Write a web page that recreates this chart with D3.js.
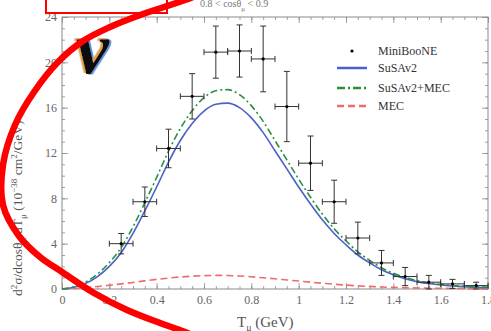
<!DOCTYPE html>
<html><head><meta charset="utf-8">
<script src="https://cdn.jsdelivr.net/npm/d3@7"></script>
<style>
html,body{margin:0;padding:0;background:#fff;}
svg{display:block;font-family:"Liberation Serif","DejaVu Serif",serif;}
</style></head>
<body>
<svg id="chart" width="491" height="331"></svg>
<script>
// ---- data ----
const dataT    = [0.25,0.35,0.45,0.55,0.65,0.75,0.85,0.95,1.05,1.15,1.25,1.35,1.45,1.55,1.65,1.75];
const dataVal  = [4.0, 7.7, 12.4,17.0,20.9,21.0,20.3,16.1,11.1,7.7, 4.5, 2.3, 1.1, 0.6, 0.45,0.3];
const dataErr  = [0.9, 1.3, 1.7, 2.0, 2.3, 2.3, 2.9, 3.1, 2.4, 1.9, 1.4, 1.1, 0.8, 0.6, 0.4, 0.3];
const binHalf  = 0.05;

const curveT   = [0,0.05,0.1,0.15,0.2,0.25,0.3,0.35,0.4,0.45,0.5,0.55,0.6,0.65,0.7,0.75,0.8,0.85,0.9,0.95,1.0,1.05,1.1,1.15,1.2,1.25,1.3,1.35,1.4,1.45,1.5,1.55,1.6,1.65,1.7,1.75,1.8];
const susa     = [0,0.15,0.5,1.1,2.0,3.2,4.9,6.9,9.0,11.2,13.1,14.6,15.7,16.3,16.4,16.0,15.1,13.8,12.2,10.6,9.0,7.5,6.1,4.9,3.9,3.0,2.3,1.7,1.25,0.9,0.65,0.48,0.35,0.26,0.2,0.15,0.12];
const susaMec  = [0,0.2,0.62,1.32,2.33,3.65,5.48,7.62,9.85,12.16,14.16,15.73,16.88,17.5,17.59,17.15,16.18,14.79,13.1,11.4,9.7,8.1,6.61,5.32,4.25,3.28,2.53,1.88,1.39,1.01,0.74,0.55,0.41,0.31,0.24,0.18,0.15];
const mec      = [0,0.05,0.12,0.22,0.33,0.45,0.58,0.72,0.85,0.96,1.06,1.13,1.18,1.2,1.19,1.15,1.08,0.99,0.9,0.8,0.7,0.6,0.51,0.42,0.35,0.28,0.23,0.18,0.14,0.11,0.09,0.07,0.06,0.05,0.04,0.03,0.03];

const xTicks   = [0,0.2,0.4,0.6,0.8,1,1.2,1.4,1.6,1.8];
const xTickLabels = ["0","0.2","0.4","0.6","0.8","1","1.2","1.4","1.6","1.8"];
const yTicks   = [0,4,8,12,16,20,24];

const legendLabels = ["MiniBooNE","SuSAv2","SuSAv2+MEC","MEC"];
// annotation (hand-drawn red ellipse path, in pixels)
const ellipsePts = [[235,-20],[185,0],[143,14],[110,27],[83,41],[58,62],[34,92],[15,125],[3,165],[3,205],[19,236],[40,257],[62,272],[94,293],[127,310],[160,323],[185,332],[215,345]];

// ---- chart ----
const svg = d3.select("#chart");
const x = d3.scaleLinear().domain([0,1.8]).range([62,488]);
const y = d3.scaleLinear().domain([0,24]).range([289,17]);
const axisColor = "#8a8a8a";

// minor ticks
const minorX = d3.range(0,1.8001,0.05);
const minorY = d3.range(0,24.001,1);
function tickAxis(gen, tr, size, vals){
  const g = svg.append("g").attr("transform",tr).call(gen.tickValues(vals).tickSizeInner(size).tickSizeOuter(0).tickFormat(""));
  g.selectAll("path").remove();
  g.selectAll("line").attr("stroke",axisColor).attr("stroke-width",0.8);
  return g;
}
tickAxis(d3.axisBottom(x), `translate(0,${y(0)})`, -3, minorX);
tickAxis(d3.axisBottom(x), `translate(0,${y(0)})`, -6, xTicks);
tickAxis(d3.axisTop(x), `translate(0,${y(24)})`, -3, minorX);
tickAxis(d3.axisTop(x), `translate(0,${y(24)})`, -6, xTicks);
tickAxis(d3.axisLeft(y), `translate(${x(0)},0)`, -3, minorY);
tickAxis(d3.axisLeft(y), `translate(${x(0)},0)`, -6, yTicks);
tickAxis(d3.axisRight(y), `translate(${x(1.8)},0)`, -3, minorY);
tickAxis(d3.axisRight(y), `translate(${x(1.8)},0)`, -6, yTicks);

// frame
svg.append("rect").attr("x",x(0)).attr("y",y(24)).attr("width",x(1.8)-x(0)).attr("height",y(0)-y(24))
  .attr("fill","none").attr("stroke",axisColor).attr("stroke-width",1);

// tick labels
const xl = svg.append("g").attr("transform",`translate(0,${y(0)})`)
  .call(d3.axisBottom(x).tickValues(xTicks).tickSize(0).tickPadding(6).tickFormat((d,i)=>xTickLabels[i]));
xl.select("path").remove();
xl.selectAll("text").attr("font-family","Liberation Serif").attr("font-size",12).attr("fill","#666");
const yl = svg.append("g").attr("transform",`translate(${x(0)},0)`)
  .call(d3.axisLeft(y).tickValues(yTicks).tickSize(0).tickPadding(5));
yl.select("path").remove();
yl.selectAll("text").attr("font-family","Liberation Serif").attr("font-size",12).attr("fill","#666");

// curves
const line = vals => d3.line().x((d,i)=>x(curveT[i])).y(d=>y(d)).curve(d3.curveMonotoneX)(vals);
svg.append("path").attr("d",line(mec)).attr("fill","none").attr("stroke","#ee6b6b").attr("stroke-width",1.6).attr("stroke-dasharray","7,4");
svg.append("path").attr("d",line(susa)).attr("fill","none").attr("stroke","#4a62c8").attr("stroke-width",1.6);
svg.append("path").attr("d",line(susaMec)).attr("fill","none").attr("stroke","#2a9040").attr("stroke-width",1.6).attr("stroke-dasharray","7,3,2,3");

// data points
const pts = svg.append("g").attr("stroke","#333").attr("stroke-width",1);
dataT.forEach((t,i)=>{
  const v = dataVal[i], e = dataErr[i];
  pts.append("line").attr("x1",x(t)).attr("x2",x(t)).attr("y1",y(v-e)).attr("y2",y(v+e));
  pts.append("line").attr("x1",x(t)-3).attr("x2",x(t)+3).attr("y1",y(v-e)).attr("y2",y(v-e));
  pts.append("line").attr("x1",x(t)-3).attr("x2",x(t)+3).attr("y1",y(v+e)).attr("y2",y(v+e));
  pts.append("line").attr("x1",x(t-binHalf)).attr("x2",x(t+binHalf)).attr("y1",y(v)).attr("y2",y(v));
  pts.append("line").attr("x1",x(t-binHalf)).attr("x2",x(t-binHalf)).attr("y1",y(v)-3).attr("y2",y(v)+3);
  pts.append("line").attr("x1",x(t+binHalf)).attr("x2",x(t+binHalf)).attr("y1",y(v)-3).attr("y2",y(v)+3);
  svg.append("circle").attr("cx",x(t)).attr("cy",y(v)).attr("r",1.6).attr("fill","#000");
});

// legend
const lg = svg.append("g").attr("font-family","Liberation Serif").attr("font-size",12).attr("fill","#333");
const rows = [51,68,88,106];
lg.append("circle").attr("cx",352).attr("cy",rows[0]).attr("r",1.6).attr("fill","#000");
lg.append("line").attr("x1",337).attr("x2",367).attr("y1",rows[1]).attr("y2",rows[1]).attr("stroke","#4a62c8").attr("stroke-width",2.5);
lg.append("line").attr("x1",337).attr("x2",367).attr("y1",rows[2]).attr("y2",rows[2]).attr("stroke","#2a9040").attr("stroke-width",2.5).attr("stroke-dasharray","8,3,2,3");
lg.append("line").attr("x1",337).attr("x2",367).attr("y1",rows[3]).attr("y2",rows[3]).attr("stroke","#ee6b6b").attr("stroke-width",2.5).attr("stroke-dasharray","7,4");
legendLabels.forEach((l,i)=>lg.append("text").attr("x",378).attr("y",rows[i]+4).text(l));

// axis titles
const xt = svg.append("text").attr("x",237).attr("y",327).attr("font-size",15).attr("fill","#555");
xt.append("tspan").text("T");
xt.append("tspan").attr("font-size",10).attr("dy",4).text("μ");
xt.append("tspan").attr("dy",-4).text(" (GeV)");

const yt = svg.append("text").attr("transform","translate(22,296) rotate(-90)").attr("font-size",13.5).attr("fill","#555");
yt.append("tspan").text("d");
yt.append("tspan").attr("font-size",9).attr("dy",-5).text("2");
yt.append("tspan").attr("dy",5).text("σ/dcosθ");
yt.append("tspan").attr("font-size",9).attr("dy",4).text("μ");
yt.append("tspan").attr("dy",-4).text("/dT");
yt.append("tspan").attr("font-size",9).attr("dy",4).text("μ");
yt.append("tspan").attr("dy",-4).text(" (10");
yt.append("tspan").attr("font-size",9).attr("dy",-5).text("−38");
yt.append("tspan").attr("dy",5).text(" cm");
yt.append("tspan").attr("font-size",9).attr("dy",-5).text("2");
yt.append("tspan").attr("dy",5).text("/GeV)");

// top cut label
const tl = svg.append("text").attr("x",200).attr("y",7).attr("font-size",10).attr("fill","#777");
tl.append("tspan").text("0.8 < cosθ");
tl.append("tspan").attr("font-size",7).attr("dy",4).text("μ");
tl.append("tspan").attr("dy",-4).text(" < 0.9");

// big nu (one text with coloured fringes as shadows)
svg.append("defs").append("filter").attr("id","fringe").attr("x","-20%").attr("y","-20%").attr("width","140%").attr("height","140%")
  .html('<feDropShadow dx="-2.5" dy="-1" stdDeviation="0.6" flood-color="#e3a050"/><feDropShadow dx="2" dy="0.5" stdDeviation="0.6" flood-color="#3a7ad0" flood-opacity="0.8"/>');
svg.append("text").attr("x",76).attr("y",73).attr("font-size",74).attr("font-weight","bold").attr("font-style","italic")
  .attr("fill","#111").attr("filter","url(#fringe)").text("ν");

// annotations
svg.append("rect").attr("x",46).attr("y",-10).attr("width",121).attr("height",23).attr("fill","none").attr("stroke","#ff0000").attr("stroke-width",2);
svg.append("path").attr("d",d3.line().curve(d3.curveCatmullRom)(ellipsePts)).attr("fill","none").attr("stroke","#ff0000").attr("stroke-width",6.5).attr("stroke-linecap","round");
</script>
</body></html>
